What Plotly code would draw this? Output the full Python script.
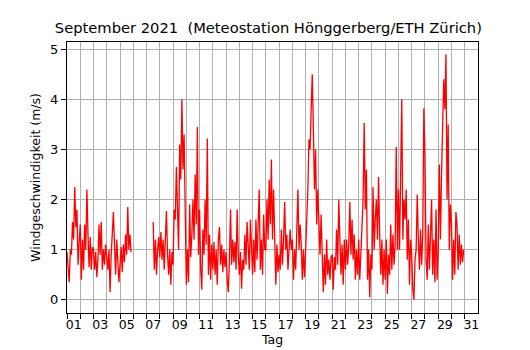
import plotly.graph_objects as go

# 2-hourly readings (00,02,...,22 h) of wind speed in m/s for each day of September 2021
N = None
d01 = [0.95, 0.5, 0.35, 1.0, 0.9, 1.55, 1.2, 2.25, 1.45, 1.8, 0.7, 1.15]
d02 = [1.5, 0.4, 1.2, 0.6, 1.5, 1.0, 2.2, 1.3, 0.65, 1.25, 0.6, 1.05]
d03 = [1.0, 0.6, 0.95, 0.45, 0.8, 1.5, 0.9, 1.55, 0.6, 1.0, 0.7, 1.1]
d04 = [0.9, 0.6, 1.0, 0.15, 0.9, 1.3, 1.75, 1.1, 0.5, 1.2, 0.6, 0.35]
d05 = [0.7, 1.05, 0.55, 1.1, 0.75, 1.3, 0.9, 1.85, 1.0, 1.3, 0.95, N]
d06 = [N, N, N, N, N, N, N, N, N, N, N, N]
d07 = [N, N, N, N, N, N, 1.55, 0.6, 1.2, 0.5, 1.0, 1.25]
d08 = [0.85, 1.35, 0.8, 1.2, 0.6, 1.45, 1.77, 0.9, 0.5, 1.0, 0.3, 0.95]
d09 = [0.7, 1.8, 1.6, 2.65, 1.9, 1.0, 3.1, 2.4, 4.0, 2.6, 3.3, 1.6]
d10 = [0.3, 1.0, 0.35, 1.9, 0.85, 1.3, 2.0, 1.2, 2.5, 1.5, 3.45, 0.9]
d11 = [1.8, 0.6, 0.2, 1.4, 0.9, 2.0, 1.1, 3.22, 0.5, 1.3, 0.4, 1.1]
d12 = [0.6, 1.15, 0.5, 1.0, 0.3, 1.2, 1.45, 0.7, 1.1, 0.55, 1.0, 0.65]
d13 = [0.95, 0.4, 0.15, 0.8, 1.8, 0.7, 1.2, 0.75, 1.15, 0.6, 1.8, 0.9]
d14 = [0.5, 0.95, 0.22, 0.8, 0.6, 1.3, 0.7, 1.55, 0.9, 0.6, 1.6, 0.8]
d15 = [0.5, 1.2, 0.55, 1.6, 0.8, 1.5, 2.2, 0.6, 1.2, 0.5, 1.7, 1.0]
d16 = [1.0, 2.0, 1.2, 2.4, 1.5, 2.8, 1.2, 2.2, 1.3, 0.3, 1.1, 0.55]
d17 = [0.9, 0.6, 1.4, 0.7, 1.2, 1.95, 1.0, 1.3, 0.6, 1.1, 1.4, 1.0]
d18 = [1.2, 0.4, 1.0, 0.6, 1.6, 2.2, 1.0, 1.5, 1.1, 0.4, 1.0, 0.45]
d19 = [1.0, 1.5, 2.2, 3.2, 3.0, 3.8, 4.5, 3.4, 2.2, 3.0, 1.5, 2.2]
d20 = [1.6, 0.9, 1.7, 0.6, 0.15, 0.9, 0.3, 1.2, 0.5, 0.8, 0.4, 0.85]
d21 = [0.9, 0.2, 0.85, 0.6, 1.4, 0.7, 2.0, 1.2, 0.5, 1.1, 0.3, 1.2]
d22 = [0.6, 1.2, 0.7, 1.1, 1.95, 0.9, 1.6, 0.8, 1.3, 0.4, 1.0, 0.5]
d23 = [1.2, 0.4, 0.9, 1.3, 2.0, 3.53, 1.8, 2.6, 0.4, 1.0, 0.05, 0.9]
d24 = [0.6, 2.25, 1.0, 1.6, 2.0, 1.2, 2.45, 1.3, 0.5, 1.2, 0.3, 1.0]
d25 = [0.4, 1.2, 0.12, 0.9, 0.5, 1.5, 0.6, 1.3, 0.7, 1.1, 3.05, 1.0]
d26 = [2.2, 1.0, 2.5, 4.0, 1.2, 2.0, 1.6, 2.2, 0.8, 1.6, 0.3, 1.2]
d27 = [0.9, 0.2, 0.0, 0.8, 1.0, 2.1, 1.2, 0.6, 1.4, 0.7, 1.3, 3.82]
d28 = [2.9, 0.8, 0.4, 1.5, 0.6, 1.2, 2.0, 0.5, 1.2, 0.35, 1.8, 0.4]
d29 = [1.0, 2.7, 1.2, 2.5, 3.5, 4.4, 3.8, 4.9, 2.0, 3.5, 1.0, 1.9]
d30 = [1.5, 0.4, 1.2, 0.5, 1.75, 1.5, 0.6, 1.3, 0.7, 1.1, 0.75, 1.0]

days = [d01, d02, d03, d04, d05, d06, d07, d08, d09, d10,
        d11, d12, d13, d14, d15, d16, d17, d18, d19, d20,
        d21, d22, d23, d24, d25, d26, d27, d28, d29, d30]
hours = [0, 2, 4, 6, 8, 10, 12, 14, 16, 18, 20, 22]

tick_days = list(range(1, 32))
label_days = list(range(1, 32, 2))
label_text = ["%02d" % d for d in label_days]

x, y = [], []
for i, vals in enumerate(days):
    for h, v in zip(hours, vals):
        x.append(i + 1 + h / 24.0)
        y.append(v)

fig = go.Figure()
fig.add_trace(go.Scatter(x=x, y=y, mode="lines",
                         line=dict(color="#ff0000", width=1.3),
                         connectgaps=False, showlegend=False))

font = "DejaVu Sans"
fig.update_layout(
    width=530, height=350,
    margin=dict(l=67, r=52, t=42, b=37),
    paper_bgcolor="white", plot_bgcolor="white",
    font=dict(family=font, size=12, color="black"),
    title=dict(text="September 2021  (Meteostation Hönggerberg/ETH Zürich)",
               x=0.49, xref="paper", y=1 - 28 / 350, yref="container",
               xanchor="center", yanchor="middle", automargin=False,
               font=dict(family=font, size=14.7, color="black")),
)
fig.update_xaxes(
    range=[1, 32], tickmode="array", automargin=False,
    tickvals=[d + 0.5 for d in label_days], ticktext=label_text,
    ticks="", showgrid=False, zeroline=False,
    tickfont=dict(size=12.5),
    showline=True, linecolor="black", linewidth=1, mirror=True,
    minor=dict(tickmode="array", tickvals=tick_days, ticks="outside",
               ticklen=5, tickcolor="black", tickwidth=1,
               showgrid=True, gridcolor="#b0b0b0", gridwidth=1),
    title=dict(text="Tag", font=dict(size=12.5), standoff=2),
)
fig.update_yaxes(
    range=[-0.265, 5.145], tickmode="array", tickvals=[0, 1, 2, 3, 4, 5],
    ticks="outside", ticklen=5, tickcolor="black", automargin=False,
    showgrid=True, gridcolor="#b0b0b0", gridwidth=1, zeroline=False,
    tickfont=dict(size=13),
    showline=True, linecolor="black", linewidth=1, mirror=True,
    title=dict(text="Windgeschwindigkeit (m/s)", font=dict(size=12.5), standoff=6),
)

fig.write_html("out.html", config={"displayModeBar": False},
               post_script="document.body.style.margin='0px';")
